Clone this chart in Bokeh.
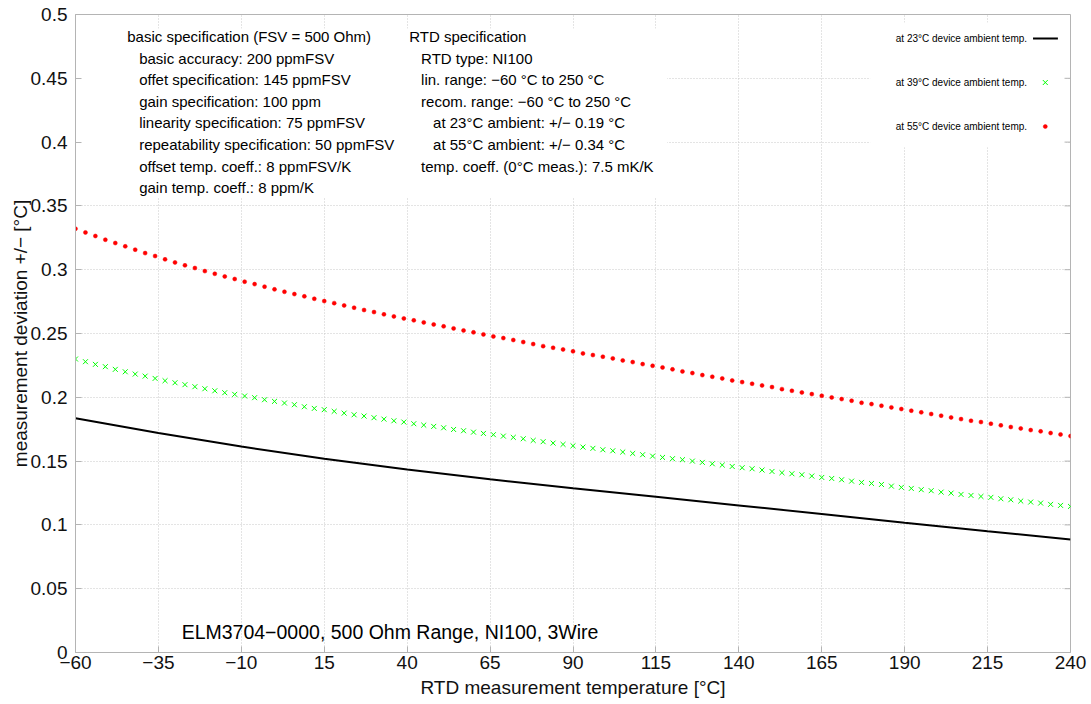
from bokeh.plotting import figure
from bokeh.models import Range1d, FixedTicker, CustomJSTickFormatter
from bokeh.core.properties import value
from bokeh.embed import file_html
from bokeh.resources import INLINE

# ---------------- data ----------------
temps_pts = list(range(-60, 241, 3))

dev_39 = [
    0.2300, 0.2279, 0.2258, 0.2240, 0.2219, 0.2200, 0.2182, 0.2166, 0.2148, 0.2130,
    0.2114, 0.2099, 0.2083, 0.2067, 0.2051, 0.2036, 0.2023, 0.2010, 0.1997, 0.1981,
    0.1968, 0.1955, 0.1942, 0.1926, 0.1913, 0.1903, 0.1890, 0.1876, 0.1863, 0.1853,
    0.1840, 0.1829, 0.1816, 0.1806, 0.1793, 0.1782, 0.1772, 0.1761, 0.1748, 0.1738,
    0.1727,
    0.1717, 0.1707, 0.1696, 0.1686, 0.1675, 0.1662, 0.1652, 0.1641, 0.1631, 0.1620,
    0.1610, 0.1600, 0.1589, 0.1581, 0.1571, 0.1560, 0.1550, 0.1539, 0.1529, 0.1519,
    0.1511, 0.1500, 0.1490, 0.1479, 0.1469, 0.1458, 0.1448, 0.1440, 0.1430, 0.1419,
    0.1409, 0.1401, 0.1393, 0.1383, 0.1372, 0.1364, 0.1354, 0.1343, 0.1333, 0.1325,
    0.1317,
    0.1304, 0.1294, 0.1286, 0.1276, 0.1268, 0.1257, 0.1249, 0.1239, 0.1231, 0.1223,
    0.1216, 0.1205, 0.1197, 0.1187, 0.1179, 0.1171, 0.1161, 0.1153, 0.1145,
]

dev_55 = [
    0.3321, 0.3292, 0.3264, 0.3235, 0.3209, 0.3183, 0.3157, 0.3130, 0.3107, 0.3081,
    0.3057, 0.3034, 0.3013, 0.2989, 0.2968, 0.2947, 0.2927, 0.2906, 0.2887, 0.2867,
    0.2846, 0.2827, 0.2809, 0.2791, 0.2772, 0.2754, 0.2738, 0.2720, 0.2702, 0.2684,
    0.2668, 0.2650, 0.2634, 0.2618, 0.2603, 0.2587, 0.2571, 0.2556, 0.2540, 0.2524,
    0.2509,
    0.2493, 0.2477, 0.2464, 0.2449, 0.2433, 0.2417, 0.2401, 0.2388, 0.2375, 0.2360,
    0.2344, 0.2331, 0.2318, 0.2305, 0.2289, 0.2276, 0.2260, 0.2247, 0.2234, 0.2219,
    0.2203, 0.2190, 0.2174, 0.2161, 0.2148, 0.2132, 0.2119, 0.2106, 0.2093, 0.2080,
    0.2064, 0.2051, 0.2038, 0.2025, 0.2012, 0.1999, 0.1986, 0.1973, 0.1957, 0.1947,
    0.1934,
    0.1921, 0.1908, 0.1895, 0.1882, 0.1869, 0.1856, 0.1842, 0.1829, 0.1816, 0.1806,
    0.1793, 0.1780, 0.1767, 0.1756, 0.1743, 0.1733, 0.1720, 0.1709, 0.1696,
]

temps_line = [-60, -35, -10, 15, 40, 65, 90, 115, 140, 165, 190, 215, 240]
dev_23 = [0.1835, 0.1720, 0.1614, 0.1519, 0.1435, 0.1358, 0.1287, 0.1220,
          0.1152, 0.1086, 0.1017, 0.0950, 0.0886]

x_ticks = [-60, -35, -10, 15, 40, 65, 90, 115, 140, 165, 190, 215, 240]
y_ticks = [0, 0.05, 0.1, 0.15, 0.2, 0.25, 0.3, 0.35, 0.4, 0.45, 0.5]

legend_labels = [
    "at 23°C device ambient temp.",
    "at 39°C device ambient temp.",
    "at 55°C device ambient temp.",
]

spec_basic = [
    "basic specification (FSV = 500 Ohm)",
    "basic accuracy: 200 ppmFSV",
    "offet specification: 145 ppmFSV",
    "gain specification: 100 ppm",
    "linearity specification: 75 ppmFSV",
    "repeatability specification: 50 ppmFSV",
    "offset temp. coeff.: 8 ppmFSV/K",
    "gain temp. coeff.: 8 ppm/K",
]
spec_basic_indent = [0, 1, 1, 1, 1, 1, 1, 1]

spec_rtd = [
    "RTD specification",
    "RTD type: NI100",
    "lin. range: \u221260 °C to 250 °C",
    "recom. range: \u221260 °C to 250 °C",
    "at 23°C ambient: +/\u2212 0.19 °C",
    "at 55°C ambient: +/\u2212 0.34 °C",
    "temp. coeff. (0°C meas.): 7.5 mK/K",
]
spec_rtd_indent = [0, 1, 1, 1, 2, 2, 1]

chart_note = "ELM3704\u22120000, 500 Ohm Range, NI100, 3Wire"
x_label = "RTD measurement temperature [°C]"
y_label = "measurement deviation +/\u2212 [°C]"

# ---------------- figure ----------------
FONT = "Liberation Sans"
GRAY = "#b4b4b4"

p = figure(width=1090, height=702,
           x_range=Range1d(-60, 240), y_range=Range1d(0, 0.5),
           output_backend="svg", toolbar_location=None,
           min_border_left=75, min_border_right=20,
           min_border_top=14, min_border_bottom=50,
           background_fill_color="white", border_fill_color="white")
p.outline_line_color = GRAY

p.xaxis.ticker = FixedTicker(ticks=x_ticks)
p.yaxis.ticker = FixedTicker(ticks=y_ticks)
p.xgrid.ticker = FixedTicker(ticks=x_ticks)
p.ygrid.ticker = FixedTicker(ticks=y_ticks)
p.xaxis.formatter = CustomJSTickFormatter(
    code="return tick.toString().replace('-', '\u2212');")
p.yaxis.formatter = CustomJSTickFormatter(
    code="return (Math.round(tick*100)/100).toString();")

for ax in (p.xaxis[0], p.yaxis[0]):
    ax.axis_line_color = GRAY
    ax.major_tick_in = 6
    ax.major_tick_out = 0
    ax.minor_tick_in = 0
    ax.minor_tick_out = 0
    ax.major_tick_line_color = GRAY
    ax.major_label_text_font = FONT
    ax.major_label_text_font_size = "19px"
    ax.major_label_text_color = "#111111"
    ax.axis_label_text_font = FONT
    ax.axis_label_text_font_size = "19px"
    ax.axis_label_text_font_style = "normal"
    ax.axis_label_text_color = "#111111"

p.xaxis.axis_label = x_label
p.yaxis.axis_label = y_label
p.xaxis.major_label_standoff = 3
p.yaxis.major_label_standoff = 8
p.xaxis.axis_label_standoff = 5
p.yaxis.axis_label_standoff = -3

p.grid.grid_line_color = "#c8c8c8"
p.grid.grid_line_dash = "1 2"
p.grid.grid_line_width = 1

# opaque backgrounds behind the text blocks / key
p.quad(left=-60, right=118.4, top=0.489, bottom=0.357,
       fill_color="white", line_color=None)
p.quad(left=179.6, right=238.7, top=0.4937, bottom=0.396,
       fill_color="white", line_color=None)

# inward ticks on the right border (mirror of the left axis ticks)
tick_len = 1.8
p.segment(x0=[240 - tick_len] * len(y_ticks), y0=y_ticks,
          x1=[240] * len(y_ticks), y1=y_ticks,
          line_color=GRAY, line_width=1)

# ---------------- series ----------------
p.line(temps_line, dev_23, line_color="black", line_width=2)
p.scatter(temps_pts, dev_39, marker="x", size=7,
          line_color="#00ff00", line_width=1)
p.scatter(temps_pts, dev_55, marker="circle", size=4,
          fill_color="#ff0000", line_color="#ff0000", line_width=0.5)

# ---------------- texts ----------------
line_step = 0.01695
basic_x = [-44.4 + 3.6 * k for k in spec_basic_indent]
basic_y = [0.4828 - i * line_step for i in range(len(spec_basic))]
p.text(x=basic_x, y=basic_y, text=spec_basic,
       text_font=value(FONT), text_font_size="15px",
       text_baseline="middle", text_align="left", text_color="black")

rtd_x = [40.6 + 3.6 * k for k in spec_rtd_indent]
rtd_y = [0.4828 - i * line_step for i in range(len(spec_rtd))]
p.text(x=rtd_x, y=rtd_y, text=spec_rtd,
       text_font=value(FONT), text_font_size="15px",
       text_baseline="middle", text_align="left", text_color="black")

p.text(x=[-28], y=[0.0157], text=[chart_note],
       text_font=value(FONT), text_font_size="19.5px",
       text_baseline="middle", text_align="left", text_color="black")

# ---------------- key ----------------
key_y = [0.4812, 0.4467, 0.4122]
p.text(x=[226.9] * 3, y=key_y, text=legend_labels,
       text_font=value(FONT), text_font_size="10px",
       text_baseline="middle", text_align="right", text_color="black")
p.segment(x0=[228.7], y0=[key_y[0]], x1=[236.2], y1=[key_y[0]],
          line_color="black", line_width=2)
p.scatter([232.4], [key_y[1]], marker="x", size=7,
          line_color="#00ff00", line_width=1)
p.scatter([232.4], [key_y[2]], marker="circle", size=4,
          fill_color="#ff0000", line_color="#ff0000", line_width=0.5)

open("out.html", "w").write(file_html(p, INLINE))
